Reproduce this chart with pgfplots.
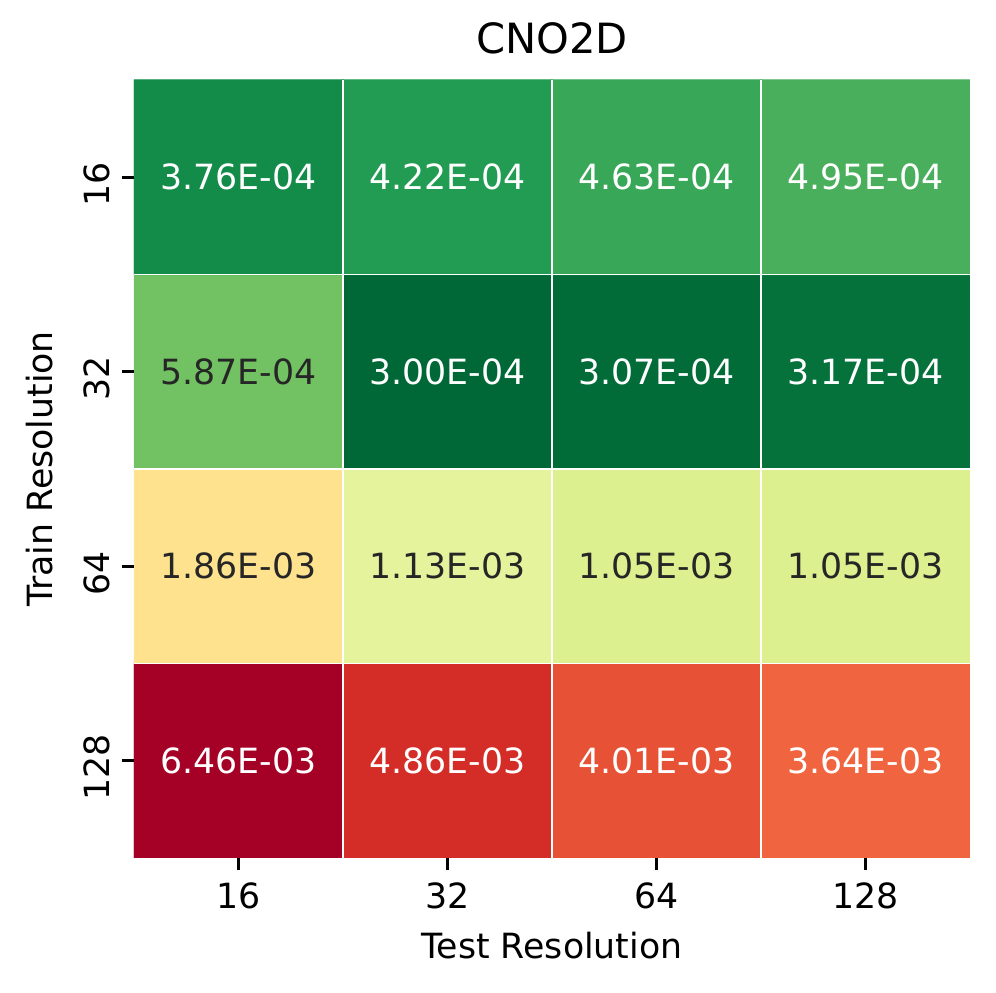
\documentclass[border=0pt]{standalone}
\usepackage{pgfplots}
\pgfplotsset{compat=1.18}
\usepackage{fontspec}
\setmainfont{DejaVu Sans}
\definecolor{darktext}{HTML}{262626}
\begin{document}
\begin{tikzpicture}
\useasboundingbox (-38.59pt,-38.88pt) rectangle (248.26pt,247.10pt);
\begin{axis}[
  at={(0,0)}, anchor=south west,
  scale only axis, width=240.77pt, height=224.06pt,
  xmin=-0.5, xmax=3.5, ymin=-0.5, ymax=3.5,
  axis x line*=bottom, axis y line*=left,
  axis line style={draw=none},
  tick align=outside, major tick length=3.5pt,
  tick style={black, line width=0.8pt},
  xtick={0,1,2,3}, xticklabels={16,32,64,128},
  ytick={0,1,2,3}, yticklabels={128,64,32,16},
  minor xtick={0.5,1.5,2.5}, minor ytick={0.5,1.5,2.5},
  minor tick length=0pt,
  xminorgrids, yminorgrids,
  minor grid style={white, line width=0.5pt},
  axis on top,
  tick label style={font=\fontsize{10}{12}\selectfont},
  yticklabel style={rotate=90, anchor=south, xshift=-2pt},
  xlabel={Test Resolution}, ylabel={Train Resolution},
  ylabel shift=2pt,
  label style={font=\fontsize{10}{12}\selectfont},
  title={CNO2D}, title style={font=\fontsize{12}{14}\selectfont, yshift=-2pt},
  colormap={rdylgnr}{rgb255=(0,104,55) rgb255=(26,152,80) rgb255=(102,189,99) rgb255=(166,217,106) rgb255=(217,239,139) rgb255=(255,255,191) rgb255=(254,224,139) rgb255=(253,174,97) rgb255=(244,109,67) rgb255=(215,48,39) rgb255=(165,0,38)},
  point meta min=-8.111728, point meta max=-5.042126,
]
\addplot[matrix plot*, mesh/cols=4, point meta={ln(\thisrow{v})}] table {
x y v
0 0 0.00646
1 0 0.00486
2 0 0.00401
3 0 0.00364
0 1 0.00186
1 1 0.00113
2 1 0.00105
3 1 0.00105
0 2 0.000587
1 2 0.000300
2 2 0.000307
3 2 0.000317
0 3 0.000376
1 3 0.000422
2 3 0.000463
3 3 0.000495
};
\addplot[only marks, mark=none, nodes near coords, point meta=explicit symbolic,
  every node near coord/.append style={anchor=center, text=white, font=\fontsize{10}{12}\selectfont}]
  table[meta=label] {
x y label
0 0 6.46E-03
1 0 4.86E-03
2 0 4.01E-03
3 0 3.64E-03
1 2 3.00E-04
2 2 3.07E-04
3 2 3.17E-04
0 3 3.76E-04
1 3 4.22E-04
2 3 4.63E-04
3 3 4.95E-04
};
\addplot[only marks, mark=none, nodes near coords, point meta=explicit symbolic,
  every node near coord/.append style={anchor=center, text=darktext, font=\fontsize{10}{12}\selectfont}]
  table[meta=label] {
x y label
0 1 1.86E-03
1 1 1.13E-03
2 1 1.05E-03
3 1 1.05E-03
0 2 5.87E-04
};
\end{axis}
\end{tikzpicture}
\end{document}
